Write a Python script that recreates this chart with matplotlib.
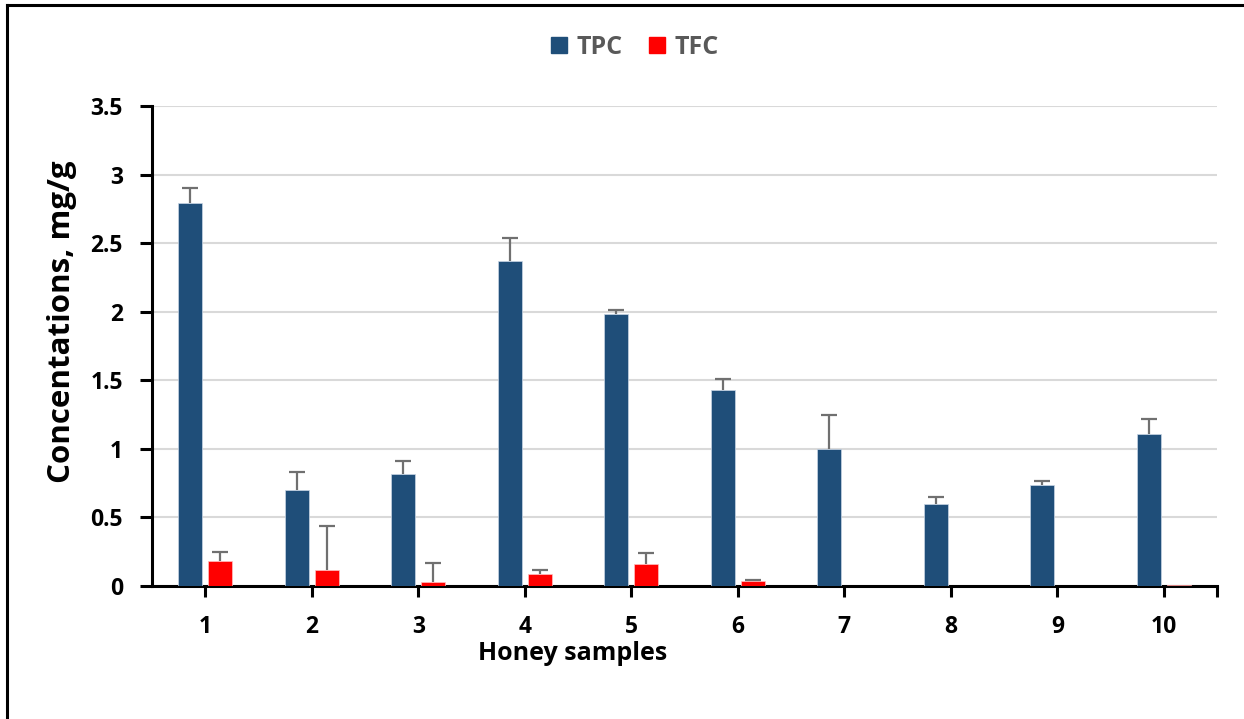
import matplotlib.pyplot as plt
import numpy as np
from matplotlib.lines import Line2D

plt.rcParams['font.family'] = ['Open Sans', 'DejaVu Sans']

samples = ['1', '2', '3', '4', '5', '6', '7', '8', '9', '10']
tpc = [2.79, 0.70, 0.82, 2.37, 1.98, 1.43, 1.00, 0.60, 0.74, 1.11]
tpc_err = [0.11, 0.13, 0.09, 0.17, 0.03, 0.08, 0.25, 0.05, 0.025, 0.11]
tfc = [0.18, 0.12, 0.03, 0.09, 0.16, 0.04, 0.0, 0.0, 0.0, 0.005]
tfc_err = [0.07, 0.32, 0.14, 0.03, 0.08, 0.005, 0.0, 0.0, 0.0, 0.0]
y_ticks = [0, 0.5, 1, 1.5, 2, 2.5, 3, 3.5]

TPC_COLOR = '#1f4e79'
TFC_COLOR = '#ff0000'
ERR_COLOR = '#707070'

W, H = 1244, 719
fig = plt.figure(figsize=(W / 100, H / 100), dpi=100)
ax = fig.add_axes([152 / W, (H - 586) / H, (1217 - 152) / W, (586 - 106) / H])

x = np.arange(len(samples))
bw = 0.225
off = 0.141
ax.bar(x - off, tpc, bw, color=TPC_COLOR, edgecolor='#c9d6e6', linewidth=0.5, zorder=3)
ax.bar(x + off, tfc, bw, color=TFC_COLOR, edgecolor='#ffc0c0', linewidth=0.5, zorder=3)

err_kw = dict(fmt='none', ecolor=ERR_COLOR, elinewidth=1.6, capsize=6, capthick=1.6, zorder=4)


def upper_errors(xs, ys, errs):
    xs, ys, errs = map(np.asarray, (xs, ys, errs))
    keep = errs > 0
    eb = ax.errorbar(xs[keep], ys[keep], yerr=[np.zeros(keep.sum()), errs[keep]], **err_kw)
    # hide the cap that sits on the bar top (zero lower error)
    eb[1][0].set_visible(False)


upper_errors(x - off, tpc, tpc_err)
upper_errors(x + off, tfc, tfc_err)

ax.set_xlim(-0.5, len(samples) - 0.5)
ax.set_ylim(0, 3.5)
ax.set_yticks(y_ticks)
ax.set_yticklabels(['0', '0.5', '1', '1.5', '2', '2.5', '3', '3.5'])
ax.set_xticks(x)
ax.set_xticklabels(samples)
ax.set_xticks([len(samples) - 0.5], minor=True)

ax.grid(axis='y', color='#d9d9d9', linewidth=1.5, zorder=0)
ax.set_axisbelow(True)
for side in ['top', 'right']:
    ax.spines[side].set_visible(False)
ax.spines['left'].set_linewidth(2.2)
ax.spines['bottom'].set_linewidth(2.2)

ax.tick_params(axis='y', direction='out', length=9, width=2.2, pad=12,
               labelsize=16.5)
ax.tick_params(axis='x', which='both', direction='out', length=8, width=2.2, pad=13,
               labelsize=16.5)
for lbl in ax.get_xticklabels() + ax.get_yticklabels():
    lbl.set_fontweight('bold')

ax.set_xlabel('Honey samples', fontsize=18, fontweight='bold')
ax.xaxis.label.set_va('center')
ax.xaxis.set_label_coords(0.5 + (573 - 684.5) / 1065, -(653 - 586) / 480)
ax.set_ylabel('Concentations, mg/g', fontsize=22.5, fontweight='bold')
ax.yaxis.label.set_va('center')
ax.yaxis.set_label_coords(-(152 - 62) / 1065, (586 - 322) / 480)

handles = [Line2D([], [], marker='s', linestyle='none', markersize=12,
                  markerfacecolor=TPC_COLOR, markeredgecolor=TPC_COLOR),
           Line2D([], [], marker='s', linestyle='none', markersize=12,
                  markerfacecolor=TFC_COLOR, markeredgecolor=TFC_COLOR)]
leg = fig.legend(handles, ['TPC', 'TFC'], loc='center', bbox_to_anchor=(634 / W, 1 - 47 / H),
                 ncol=2, frameon=False, handlelength=0.8, handletextpad=0.3,
                 columnspacing=1.0, prop={'weight': 'bold', 'size': 18})
for t in leg.get_texts():
    t.set_color('#595959')

# outer frame lines (left and top)
fig.add_artist(Line2D([7 / W, 7 / W], [0, 1 - 5 / H], color='black', linewidth=2.2,
                      transform=fig.transFigure))
fig.add_artist(Line2D([7 / W, 1], [1 - 5 / H, 1 - 5 / H], color='black', linewidth=2.2,
                      transform=fig.transFigure))

fig.savefig('out.png', dpi=100)
